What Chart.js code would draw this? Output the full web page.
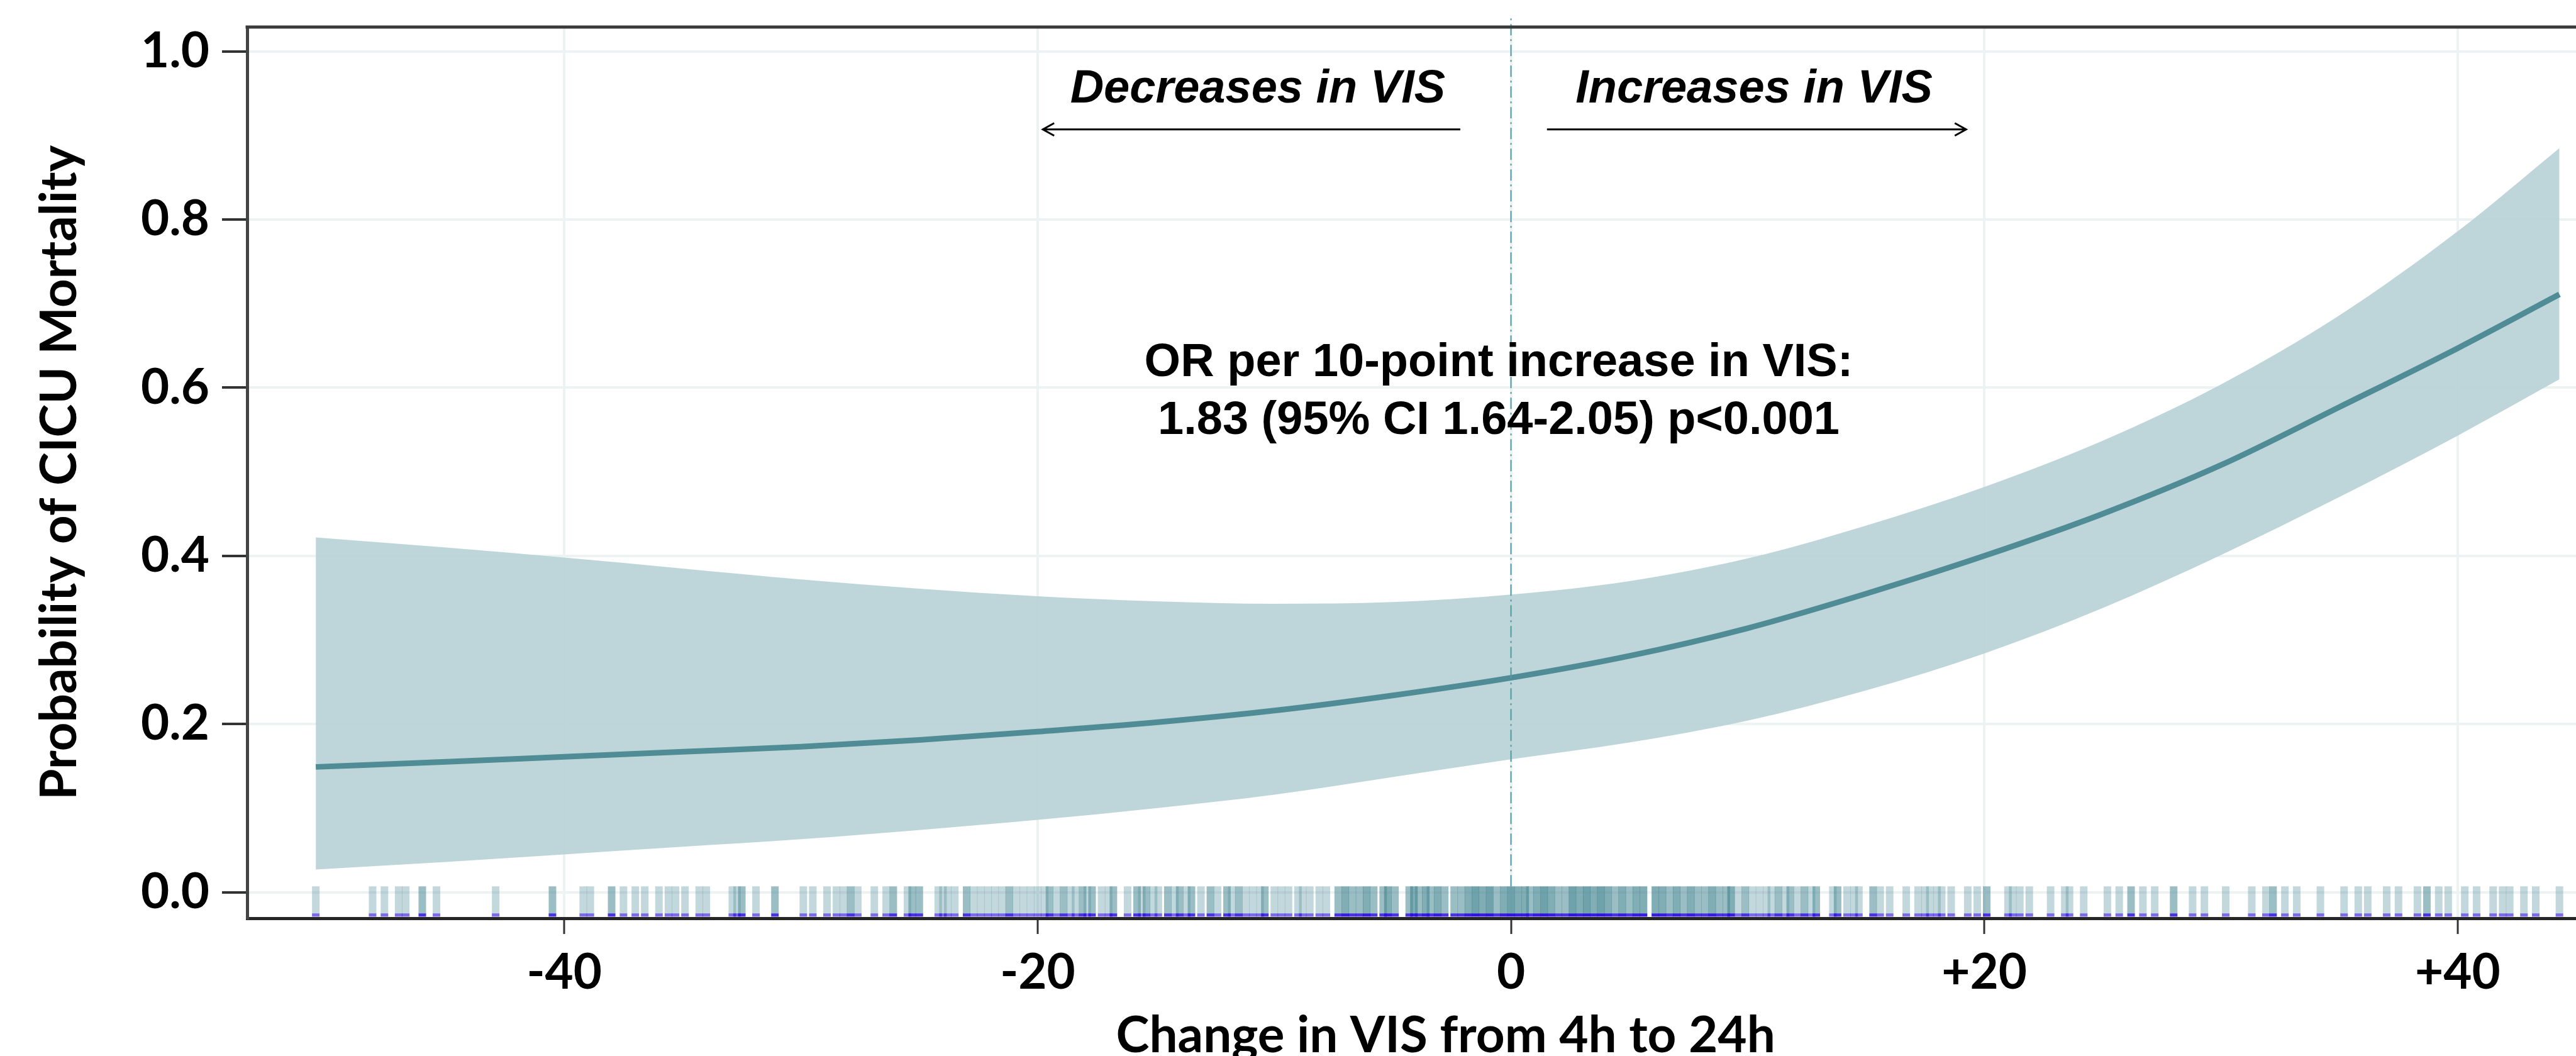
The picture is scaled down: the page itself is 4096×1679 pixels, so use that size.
<!DOCTYPE html>
<html>
<head>
<meta charset="utf-8">
<script src="https://cdn.jsdelivr.net/npm/chart.js@4.4.0/dist/chart.umd.min.js"></script>
<style>
html,body{margin:0;padding:0;background:#fff;overflow:hidden}
canvas{display:block}
</style>
</head>
<body>
<canvas id="c" width="4096" height="1679"></canvas>
<script>
// ---- data ----
const curveX     = [-50.5, -45, -40, -35, -30, -25, -20, -15, -10, -5, 0, 5, 10, 15, 20, 25, 30, 35, 40, 44.3];
const curveFit   = [0.149, 0.155, 0.161, 0.167, 0.173, 0.181, 0.191, 0.202, 0.216, 0.234, 0.255, 0.281, 0.314, 0.355, 0.400, 0.450, 0.508, 0.577, 0.647, 0.711];
const curveUpper = [0.422, 0.410, 0.398, 0.385, 0.372, 0.361, 0.352, 0.346, 0.343, 0.345, 0.354, 0.370, 0.397, 0.436, 0.482, 0.537, 0.604, 0.686, 0.786, 0.885];
const curveLower = [0.027, 0.036, 0.045, 0.054, 0.063, 0.074, 0.086, 0.100, 0.116, 0.137, 0.158, 0.178, 0.204, 0.240, 0.284, 0.338, 0.401, 0.470, 0.543, 0.610];

// rug of observed changes in VIS (position, number of overlapping observations)
const rugX = [
 -50.5,-48.1,-47.6,-47.0,-46.7,-46.0,-45.4,-42.9,-40.5,-39.2,-38.9,-38.0,-37.5,-37.0,-36.6,-36.0,-35.6,-35.3,-34.9,-34.3,-34.0,-32.9,-32.7,-32.5,-31.9,-31.1,-29.9,-29.5,-28.9,-28.5,-28.2,-27.9,-27.6,-26.9,
 -26.4,-26.1,-25.5,-25.3,-25.0,-24.2,-24.0,-23.8,-23.5,-23.0,-22.7,-22.4,-22.1,-21.8,-21.5,-21.2,-20.9,-20.6,-20.3,-20.0,-19.7,-19.5,-19.2,-18.9,-18.6,-18.4,-18.1,-17.9,-17.7,-17.3,-17.0,-16.8,-16.2,-15.8,-15.6,-15.4,-15.1,-14.9,-14.5,-14.2,-14.0,-13.7,-13.5,-13.1,-12.7,-12.4,-12.0,-11.8,-11.5,-11.2,-10.9,-10.6,-10.4,-10.0,-9.7,-9.4,-9.0,-8.8,-8.5,-8.1,-7.8,-7.3,-7.0,-6.7,-6.4,-6.1,-5.8,-5.4,-5.2,-4.9,-4.3,-4.1,-3.9,-3.6,-3.4,-3.1,-2.8,-2.4,-2.1,-1.8,
 -1.5,-1.2,-0.9,-0.6,-0.3,0.0,0.3,0.6,0.8,1.1,1.4,1.7,2.0,2.3,2.6,2.9,3.2,3.5,3.8,4.1,4.4,4.7,5.0,5.3,5.6,6.1,6.4,6.7,7.0,7.3,7.6,7.9,8.2,8.5,8.8,9.1,9.3,9.6,9.9,10.2,10.5,10.8,11.0,11.3,11.6,11.8,12.1,12.4,12.7,12.9,13.6,13.8,14.2,14.5,14.7,15.3,15.6,16.0,16.7,17.2,17.5,17.7,18.0,18.2,18.6,19.3,19.7,20.1,21.0,21.2,21.5,21.9,22.8,
 23.4,23.6,24.2,25.2,25.7,26.2,26.7,27.2,28.0,28.8,29.3,30.2,31.3,31.9,32.2,32.7,33.2,34.2,35.2,35.8,36.2,37.0,37.5,38.3,38.7,39.2,39.6,40.3,40.8,41.5,41.9,42.2,42.8,43.3,44.3
];
const rugN = [
 1,1,1,1,1,2,1,1,2,1,1,2,1,1,1,1,1,1,1,1,1,1,1,2,1,2,1,1,1,1,1,2,1,1,
 1,2,1,2,2,1,1,1,1,2,1,1,1,1,1,2,1,1,1,1,1,2,1,2,1,1,2,1,2,1,1,2,1,2,1,2,1,1,2,1,2,1,2,1,2,1,2,1,2,1,1,1,2,1,1,1,1,1,1,1,1,2,3,2,2,3,2,2,3,2,2,3,2,3,2,3,2,2,2,3,
 4,3,4,2,3,4,3,3,2,3,4,3,2,2,4,3,4,3,4,3,2,3,2,3,3,3,3,2,3,2,3,2,2,3,2,2,3,1,2,1,1,1,1,2,1,2,1,2,1,2,1,2,1,1,1,2,1,1,1,1,1,1,1,1,1,1,1,2,1,1,1,1,1,
 1,1,1,1,1,2,1,1,2,1,1,1,1,1,2,1,1,1,1,1,1,1,1,1,2,1,1,1,1,1,1,1,1,1,1
];

const refLineX = [0, 0];
const refLineY = [0.007, 1.04];

const xTickValues = [-40, -20, 0, 20, 40];
const xTickLabels = ['-40', '-20', '0', '+20', '+40'];
const yTickValues = [0, 0.2, 0.4, 0.6, 0.8, 1.0];
const yTickLabels = ['0.0', '0.2', '0.4', '0.6', '0.8', '1.0'];

const yTitle = 'Probability of CICU Mortality';
const xTitle = 'Change in VIS from 4h to 24h';
const noteLeft = 'Decreases in VIS';
const noteRight = 'Increases in VIS';
const orLines = ['OR per 10-point increase in VIS:', '1.83 (95% CI 1.64-2.05) p<0.001'];

// ---- chart ----
const pts = (xs, ys) => xs.map((x, i) => ({x: x, y: ys[i]}));
const RUG_Y = -0.0095, BASE_Y = -0.0272;

const annotations = {
  id: 'annotations',
  afterDraw(chart) {
    const {ctx, chartArea: a, scales} = chart;
    const xs = scales.x, ys = scales.y;
    ctx.save();
    // top frame line
    ctx.strokeStyle = '#3a3a3a';
    ctx.lineWidth = 5;
    ctx.beginPath();
    ctx.moveTo(a.left - 2.5, a.top);
    ctx.lineTo(a.right, a.top);
    ctx.stroke();

    ctx.fillStyle = '#000';
    ctx.textAlign = 'center';
    ctx.textBaseline = 'alphabetic';
    const fs = 74, cap = 0.716 * fs / 2;
    ctx.font = 'italic bold ' + fs + 'px "Liberation Sans", Arial, sans-serif';
    ctx.fillText(noteLeft, xs.getPixelForValue(-10.7), ys.getPixelForValue(0.959) + cap);
    ctx.fillText(noteRight, xs.getPixelForValue(10.27), ys.getPixelForValue(0.959) + cap);
    ctx.font = 'bold ' + fs + 'px "Liberation Sans", Arial, sans-serif';
    ctx.fillText(orLines[0], xs.getPixelForValue(-0.52), ys.getPixelForValue(0.6336) + cap);
    ctx.fillText(orLines[1], xs.getPixelForValue(-0.52), ys.getPixelForValue(0.565) + cap);

    // arrows
    const ay = ys.getPixelForValue(0.9073);
    ctx.strokeStyle = '#000';
    ctx.lineWidth = 3;
    const arrow = (x1, x2) => {
      const p1 = xs.getPixelForValue(x1), p2 = xs.getPixelForValue(x2);
      const dir = Math.sign(p2 - p1);
      ctx.beginPath();
      ctx.moveTo(p1, ay); ctx.lineTo(p2, ay);
      ctx.moveTo(p2 - dir * 18, ay - 10); ctx.lineTo(p2, ay); ctx.lineTo(p2 - dir * 18, ay + 10);
      ctx.stroke();
    };
    arrow(-2.14, -19.78);
    arrow(1.52, 19.23);

    // x axis title
    ctx.font = 'bold 80px Lato, sans-serif';
    ctx.fillText(xTitle, xs.getPixelForValue(-2.76), ys.getPixelForValue(-0.169) + 0.7165 * 80 / 2);
    ctx.restore();
  }
};

new Chart(document.getElementById('c'), {
  type: 'line',
  data: {
    datasets: [
      { label: 'upper', data: pts(curveX, curveUpper), borderWidth: 0, borderColor: 'rgba(0,0,0,0)',
        pointRadius: 0, fill: '+1', backgroundColor: 'rgba(183,209,214,0.9)',
        cubicInterpolationMode: 'monotone', order: 5 },
      { label: 'lower', data: pts(curveX, curveLower), borderWidth: 0, borderColor: 'rgba(0,0,0,0)',
        pointRadius: 0, fill: false, cubicInterpolationMode: 'monotone', order: 5 },
      { label: 'fit', data: pts(curveX, curveFit), borderColor: '#508c95', borderWidth: 9,
        pointRadius: 0, fill: false, cubicInterpolationMode: 'monotone', order: 3 },
      { label: 'ref', data: pts(refLineX, refLineY), borderColor: '#4e9aa3', borderWidth: 2,
        borderDash: [18, 6, 3, 6], pointRadius: 0, fill: false, clip: false, order: 2 },
      { label: 'rug', data: rugX.map(x => ({x: x, y: RUG_Y})), showLine: false,
        pointStyle: 'line', pointRotation: 90, pointRadius: 22, pointHoverRadius: 22, pointBorderWidth: 12,
        pointBorderColor: c => 'rgba(74,138,148,' + (1 - Math.pow(0.67, rugN[c.dataIndex] || 1)).toFixed(3) + ')',
        order: 1 },
      { label: 'rugBase', data: rugX.map(x => ({x: x, y: BASE_Y})), showLine: false,
        pointStyle: 'line', pointRotation: 90, pointRadius: 2.5, pointHoverRadius: 2.5, pointBorderWidth: 12,
        pointBorderColor: c => 'rgba(45,15,225,' + (1 - Math.pow(0.38, rugN[c.dataIndex] || 1)).toFixed(3) + ')',
        order: 0 }
    ]
  },
  options: {
    responsive: false,
    animation: false,
    events: [],
    devicePixelRatio: 1,
    layout: { autoPadding: false, padding: { top: 43, left: 0, right: 0, bottom: 0 } },
    plugins: { legend: { display: false }, tooltip: { enabled: false }, title: { display: false } },
    scales: {
      x: {
        type: 'linear', min: -53.4, max: 45.0,
        afterBuildTicks: s => { s.ticks = xTickValues.map(v => ({value: v})); },
        afterFit: s => { s.height = 219; s.paddingLeft = 0; s.paddingRight = 0; s.paddingTop = 0; s.paddingBottom = 0; },
        grid: { color: '#edf2f3', lineWidth: 4, drawTicks: true, tickLength: 25, tickColor: '#333', tickWidth: 3 },
        border: { display: true, color: '#262626', width: 5 },
        ticks: { font: { family: 'Lato', weight: 'bold', size: 78 }, color: '#000', padding: 15,
          maxRotation: 0, autoSkip: false,
          callback: v => xTickLabels[xTickValues.indexOf(v)] }
      },
      y: {
        type: 'linear', min: -0.031, max: 1.029,
        afterBuildTicks: s => { s.ticks = yTickValues.map(v => ({value: v})); },
        afterFit: s => { s.width = 393; s.paddingLeft = 0; s.paddingRight = 0; s.paddingTop = 0; s.paddingBottom = 0; },
        grid: { color: '#edf2f3', lineWidth: 4, drawTicks: true, tickLength: 40, tickColor: '#333', tickWidth: 4 },
        border: { display: true, color: '#444', width: 5 },
        ticks: { font: { family: 'Lato', weight: 'bold', size: 78 }, color: '#000', padding: 20,
          autoSkip: false,
          callback: v => yTickLabels[yTickValues.findIndex(t => Math.abs(t - v) < 1e-9)] },
        title: { display: true, text: yTitle, color: '#000',
          font: { family: 'Lato', weight: 'bold', size: 80 }, padding: { top: 47, bottom: 0 } }
      }
    }
  },
  plugins: [annotations]
});
</script>
</body>
</html>
